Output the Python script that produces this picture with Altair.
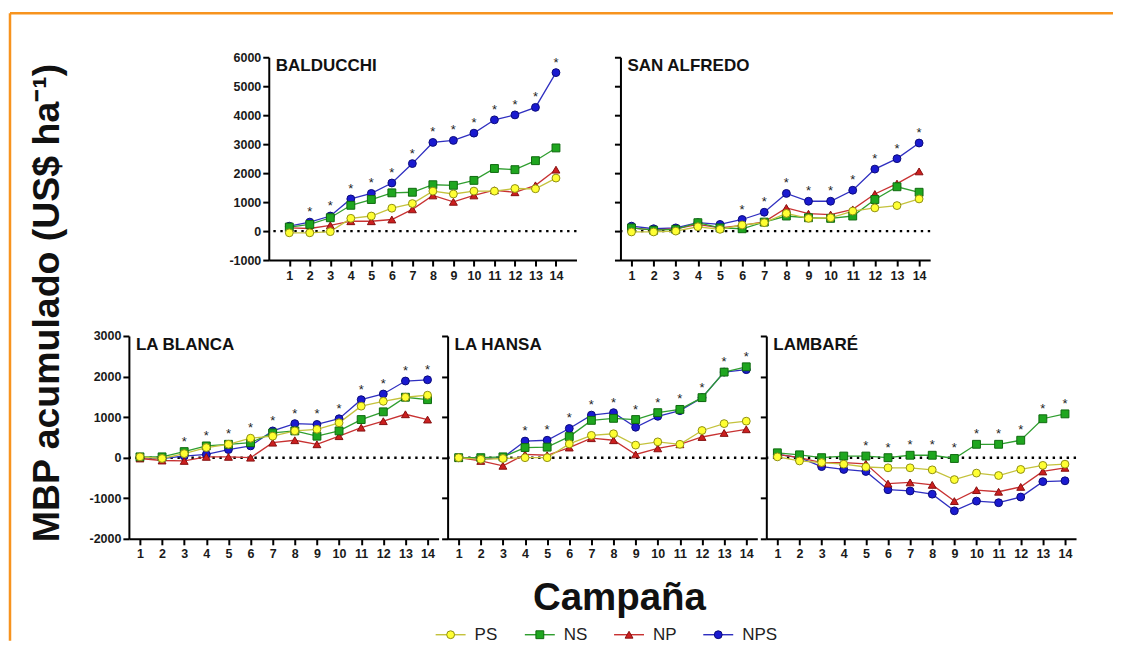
import altair as alt
import pandas as pd

SERIES = ["PS", "NS", "NP", "NPS"]
CAMPAIGNS = list(range(1, 15))

BALDUCCHI_PS = [-60, -60, -20, 440, 520, 790, 950, 1380, 1280, 1380, 1380, 1470, 1460, 1830]
BALDUCCHI_NS = [140, 230, 460, 890, 1090, 1320, 1340, 1600, 1580, 1750, 2160, 2120, 2430, 2870]
BALDUCCHI_NP = [110, 90, 200, 340, 340, 400, 750, 1230, 1010, 1230, 1410, 1340, 1580, 2120]
BALDUCCHI_NPS = [170, 310, 520, 1110, 1300, 1660, 2330, 3060, 3130, 3380, 3840, 4010, 4270, 5470]
BALDUCCHI_SIG = [2, 3, 4, 5, 6, 7, 8, 9, 10, 11, 12, 13, 14]

SANALFREDO_PS = [-30, -30, 0, 150, 60, 210, 290, 610, 440, 460, 690, 800, 880, 1110]
SANALFREDO_NS = [110, 30, 60, 290, 110, 80, 310, 520, 460, 440, 520, 1090, 1530, 1340]
SANALFREDO_NP = [110, 30, 80, 230, 110, 200, 320, 800, 600, 570, 750, 1280, 1640, 2060]
SANALFREDO_NPS = [170, 80, 110, 290, 230, 400, 650, 1300, 1030, 1030, 1410, 2140, 2500, 3040]
SANALFREDO_SIG = [6, 7, 8, 9, 10, 11, 12, 13, 14]

LABLANCA_PS = [20, -20, 100, 250, 330, 480, 530, 660, 700, 860, 1270, 1390, 1490, 1540]
LABLANCA_NS = [20, 20, 150, 290, 330, 370, 610, 660, 530, 660, 940, 1130, 1490, 1430]
LABLANCA_NP = [-20, -70, -80, 20, 20, 0, 370, 430, 330, 530, 740, 900, 1070, 940]
LABLANCA_NPS = [0, -20, 40, 80, 200, 290, 660, 840, 820, 960, 1430, 1570, 1890, 1920]
LABLANCA_SIG = [3, 4, 5, 6, 7, 8, 9, 10, 11, 12, 13, 14]

LAHANSA_PS = [0, -40, -20, 0, 0, 340, 550, 590, 310, 390, 330, 670, 840, 900]
LAHANSA_NS = [0, 0, 20, 250, 260, 520, 920, 970, 940, 1110, 1190, 1480, 2110, 2240]
LAHANSA_NP = [0, -80, -200, 80, 60, 250, 480, 430, 80, 230, 330, 510, 610, 700]
LAHANSA_NPS = [0, -40, 0, 410, 430, 720, 1050, 1110, 750, 1020, 1160, 1480, 2110, 2170]
LAHANSA_SIG = [4, 5, 6, 7, 8, 9, 10, 11, 12, 13, 14]

LAMBARE_PS = [20, -80, -120, -160, -230, -250, -250, -300, -540, -380, -440, -290, -190, -160]
LAMBARE_NS = [120, 70, 0, 40, 40, 0, 60, 60, -20, 330, 330, 430, 960, 1080]
LAMBARE_NP = [80, 0, -120, -120, -150, -640, -610, -670, -1070, -800, -840, -720, -340, -250]
LAMBARE_NPS = [80, 0, -220, -290, -340, -790, -820, -900, -1310, -1070, -1110, -970, -590, -570]
LAMBARE_SIG = [5, 6, 7, 8, 9, 10, 11, 12, 13, 14]

Y_TICKS_TOP = [-1000, 0, 1000, 2000, 3000, 4000, 5000, 6000]
Y_TICKS_BOTTOM = [-2000, -1000, 0, 1000, 2000, 3000]

Y_TITLE = "MBP acumulado (US$ ha\u207b\u00b9)"
X_TITLE = "Campaña"

LINE_COLORS = ["#c4c23c", "#2f9e2f", "#c83232", "#2f2fc0"]
FILL_COLORS = ["#ffff33", "#1fa61f", "#cc1f1f", "#1a1ad0"]
EDGE_COLORS = ["#8f8f14", "#0f6a0f", "#861010", "#0b0b7a"]
SHAPES = ["circle", "square", "triangle-up", "circle"]
DRAW_ORDER = ["NPS", "NP", "NS", "PS"]

FONT = "Liberation Sans"
ORANGE = "#f7931e"
LABEL_EXPR = "datum.value < 0 ? '-' + abs(datum.value) : '' + datum.value"

line_color = alt.Color("series:N", scale=alt.Scale(domain=SERIES, range=LINE_COLORS), legend=None)
fill_color = alt.Fill("series:N", scale=alt.Scale(domain=SERIES, range=FILL_COLORS), legend=None)
edge_color = alt.Stroke("series:N", scale=alt.Scale(domain=SERIES, range=EDGE_COLORS), legend=None)
shape_enc = alt.Shape("series:N", scale=alt.Scale(domain=SERIES, range=SHAPES), legend=None)


def long_frame(values):
    rows = []
    for s in DRAW_ORDER:
        for c, v in zip(CAMPAIGNS, values[s]):
            rows.append({"series": s, "campaign": c, "value": v})
    return pd.DataFrame(rows)


def make_panel(site, values, sig, width, xdom, ydom, yticks, labels):
    df = long_frame(values)
    mx = df.groupby("campaign")["value"].max()
    stars = pd.DataFrame({"campaign": sig, "value": [mx[c] for c in sig]})
    X = alt.X("campaign:Q", scale=alt.Scale(domain=xdom, nice=False, zero=False),
              axis=alt.Axis(values=CAMPAIGNS, title=None, format="d", labelPadding=3,
                            labelOverlap=False, labelFlush=False))
    Y = alt.Y("value:Q", scale=alt.Scale(domain=ydom, nice=False, zero=False),
              axis=alt.Axis(values=yticks, title=None, labels=labels, labelPadding=2,
                            labelExpr=LABEL_EXPR))
    zero = alt.Chart(pd.DataFrame({"value": [0]})).mark_rule(
        color="black", strokeWidth=2.4, strokeDash=[2.4, 4.6]).encode(y=Y)
    lines = alt.Chart(df).mark_line(strokeWidth=1.3).encode(x=X, y=Y, color=line_color)
    pts = alt.Chart(df).mark_point(filled=True, size=62, strokeWidth=1, opacity=1).encode(
        x=X, y=Y, fill=fill_color, stroke=edge_color, shape=shape_enc)
    star = alt.Chart(stars).mark_text(text="*", fontSize=13, dy=-10, baseline="middle",
                                      color="#222222", font=FONT).encode(x=X, y=Y)
    title = alt.Chart(pd.DataFrame({"site": [site]})).mark_text(
        align="left", baseline="middle", fontSize=17, fontWeight="bold", font=FONT,
        color="#111111").encode(text="site:N", x=alt.value(7), y=alt.value(9))
    return alt.layer(zero, lines, pts, star, title).properties(width=width, height=203)


bal = make_panel("BALDUCCHI", {"PS": BALDUCCHI_PS, "NS": BALDUCCHI_NS, "NP": BALDUCCHI_NP, "NPS": BALDUCCHI_NPS},
                 BALDUCCHI_SIG, 308, [0, 15], [-1000, 6000], Y_TICKS_TOP, True)
san = make_panel("SAN ALFREDO", {"PS": SANALFREDO_PS, "NS": SANALFREDO_NS, "NP": SANALFREDO_NP, "NPS": SANALFREDO_NPS},
                 SANALFREDO_SIG, 310, [0.5, 14.5], [-1000, 6000], Y_TICKS_TOP, False)
lbl = make_panel("LA BLANCA", {"PS": LABLANCA_PS, "NS": LABLANCA_NS, "NP": LABLANCA_NP, "NPS": LABLANCA_NPS},
                 LABLANCA_SIG, 310, [0.5, 14.5], [-2000, 3000], Y_TICKS_BOTTOM, True)
lha = make_panel("LA HANSA", {"PS": LAHANSA_PS, "NS": LAHANSA_NS, "NP": LAHANSA_NP, "NPS": LAHANSA_NPS},
                 LAHANSA_SIG, 310, [0.5, 14.5], [-2000, 3000], Y_TICKS_BOTTOM, False)
lam = make_panel("LAMBARÉ", {"PS": LAMBARE_PS, "NS": LAMBARE_NS, "NP": LAMBARE_NP, "NPS": LAMBARE_NPS},
                 LAMBARE_SIG, 310, [0.5, 14.5], [-2000, 3000], Y_TICKS_BOTTOM, False)


def spacer(w, h):
    return alt.Chart(pd.DataFrame({"v": [0]})).mark_point(opacity=0).encode(
        x=alt.value(0), y=alt.value(0)).properties(width=w, height=h)


top_row = alt.hconcat(spacer(131, 203), bal, san, spacing=44, bounds="flush")
bottom_row = alt.hconcat(spacer(26, 203), lbl, lha, lam, spacing=9, bounds="flush")

# legend panel
leg_df = pd.DataFrame({"series": SERIES})
LX = alt.X("series:N", sort=SERIES, scale=alt.Scale(type="point", padding=0.628, align=0.1875), axis=None)
leg_line = alt.Chart(leg_df).mark_point(shape="stroke", size=900, strokeWidth=1.4, opacity=1).encode(
    x=LX, y=alt.value(10), color=line_color)
leg_pts = alt.Chart(leg_df).mark_point(filled=True, size=62, strokeWidth=1, opacity=1).encode(
    x=LX, y=alt.value(10), fill=fill_color, stroke=edge_color, shape=shape_enc)
leg_txt = alt.Chart(leg_df).mark_text(align="left", baseline="middle", dx=24, fontSize=17,
                                      font=FONT, color="#222222").encode(
    x=LX, y=alt.value(10), text="series:N")
legend_panel = alt.layer(leg_line, leg_pts, leg_txt).properties(
    width=380, height=20,
    title=alt.TitleParams(X_TITLE, fontSize=38.5, font=FONT, fontWeight="bold", anchor="middle",
                          color="#111111", offset=6))
legend_row = alt.hconcat(spacer(336, 20), legend_panel, spacing=0, bounds="flush")

inner = alt.vconcat(top_row, bottom_row, spacing=48)
right_side = alt.vconcat(inner, legend_row, spacing=18)

# y title panel with frame
ytitle = alt.Chart(pd.DataFrame({"t": [Y_TITLE]})).mark_text(
    angle=270, fontSize=37.5, fontWeight="bold", font=FONT, color="#111111",
    align="center", baseline="middle").encode(text="t:N", x=alt.value(38), y=alt.value(246))
frame_df = pd.DataFrame({"v": [0]})
frame_left = alt.Chart(frame_df).mark_rule(color=ORANGE, strokeWidth=2.5).encode(
    x=alt.value(0), y=alt.value(-44), y2=alt.value(584))
frame_top = alt.Chart(frame_df).mark_rule(color=ORANGE, strokeWidth=2.5).encode(
    x=alt.value(0), x2=alt.value(1104), y=alt.value(-44))
ytitle_panel = alt.layer(frame_left, frame_top, ytitle).properties(width=80, height=500)

chart = alt.hconcat(ytitle_panel, right_side, spacing=4, bounds="flush").properties(
    padding={"left": 0, "top": 3, "right": 0, "bottom": 0}
).configure_view(stroke=None).configure_axis(
    domainColor="black", domainWidth=2, tickColor="black", tickWidth=2, tickSize=6,
    labelFont=FONT, labelFontSize=12.5, labelFontWeight="bold", labelColor="#1a1a1a", grid=False
)

chart.save("out.html", embed_options={"renderer": "svg", "actions": False})
